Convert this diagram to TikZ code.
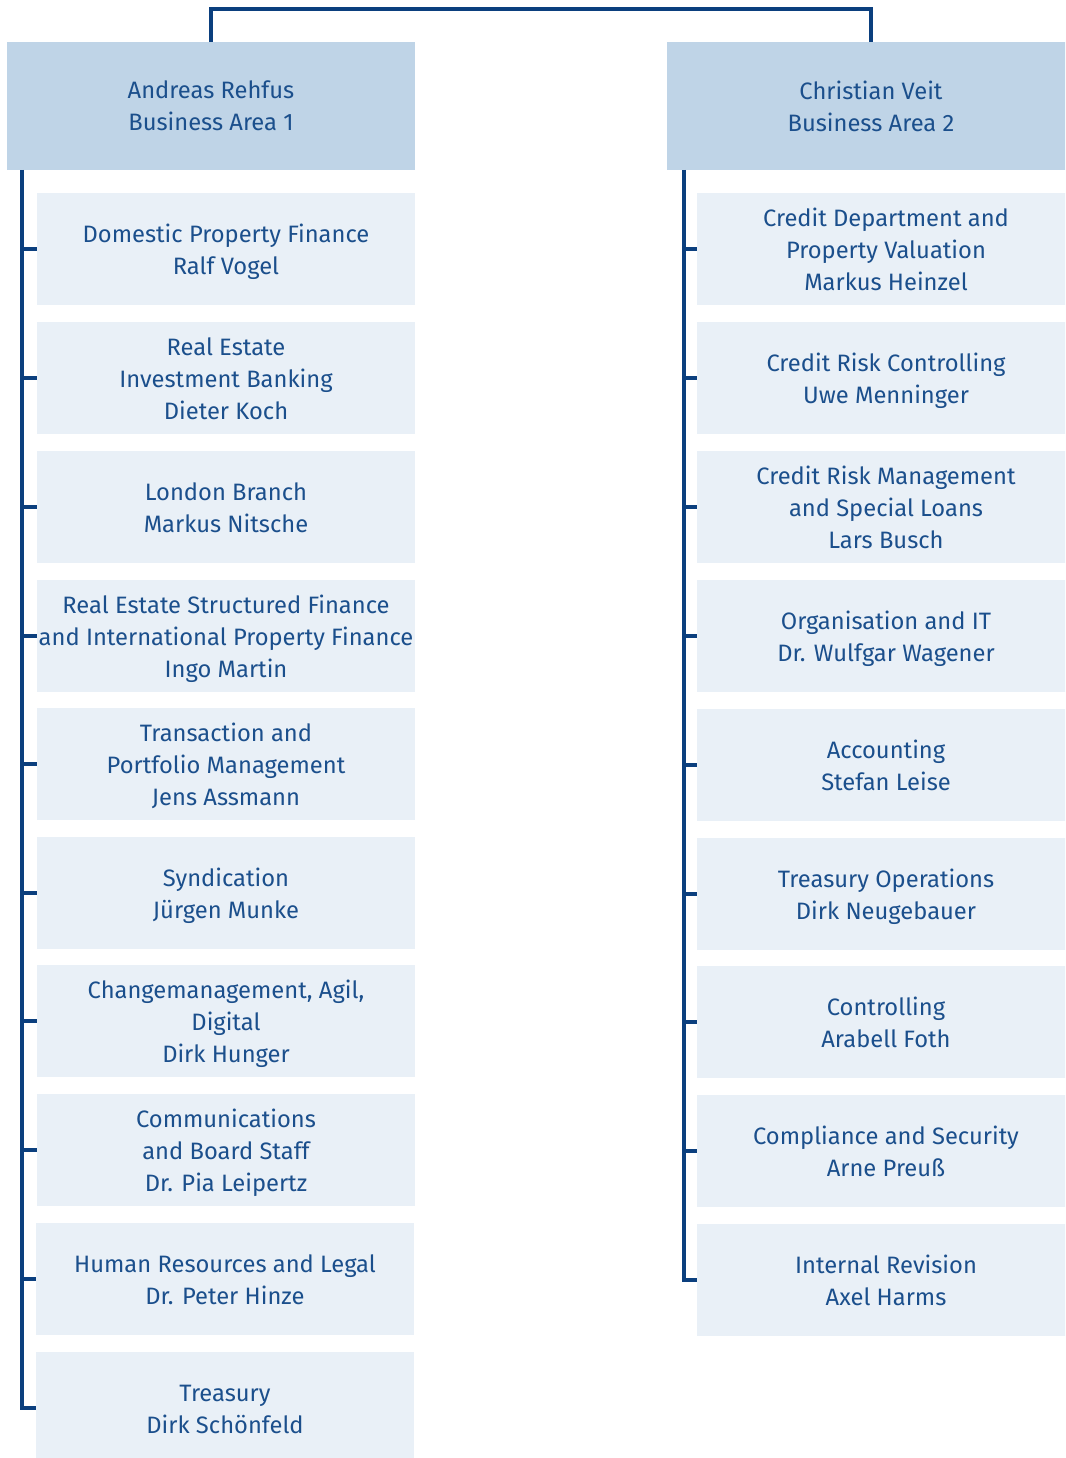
\documentclass[tikz,border=0pt]{standalone}
\usepackage{fontspec}
\setmainfont{Fira Sans}
\usetikzlibrary{calc}
\definecolor{headfill}{HTML}{BFD4E7}
\definecolor{unitfill}{HTML}{E9F0F7}
\definecolor{linkblue}{HTML}{0B3F7E}
\definecolor{txtblue}{HTML}{1B4F8C}
% unit label: centred lines, set slightly below the box centre
\newcommand{\utext}[1]{\raisebox{-2.25pt}[\height][\depth]{\begin{tabular}{@{}c@{}}#1\end{tabular}}}
\tikzset{
  headbox/.style={fill=headfill, text=txtblue, minimum width=306pt, minimum height=96pt,
    inner sep=0pt, align=center, font=\fontsize{17.8}{24}\selectfont},
  unitbox/.style={fill=unitfill, text=txtblue, minimum width=283.5pt, minimum height=84pt,
    inner sep=0pt, font=\fontsize{17.8}{24}\selectfont},
  conn/.style={draw=linkblue, line width=2.3pt}
}
\begin{document}
\begin{tikzpicture}[x=0.75pt,y=-0.75pt]
\useasboundingbox (0,0) rectangle (1065,1458);
\clip (0,0) rectangle (1065,1458);

% business area heads
\node[headbox] (h1) at (211,106) {Andreas Rehfus\\Business Area 1};
\node[headbox] (h2) at (871,106) {Christian Veit\\Business Area 2};

% units of business area 1
\node[unitbox] (a1)  at (226,249)  {\utext{Domestic Property Finance\\Ralf Vogel}};
\node[unitbox] (a2)  at (226,378)  {\utext{Real Estate\\Investment Banking\\Dieter Koch}};
\node[unitbox] (a3)  at (226,507)  {\utext{London Branch\\Markus Nitsche}};
\node[unitbox] (a4)  at (226,636)  {\utext{Real Estate Structured Finance\\and International Property Finance\\Ingo Martin}};
\node[unitbox] (a5)  at (226,764)  {\utext{Transaction and\\Portfolio Management\\Jens Assmann}};
\node[unitbox] (a6)  at (226,893)  {\utext{Syndication\\Jürgen Munke}};
\node[unitbox] (a7)  at (226,1021) {\utext{Changemanagement, Agil,\\Digital\\Dirk Hunger}};
\node[unitbox] (a8)  at (226,1150) {\utext{Communications\\and Board Staff\\Dr. Pia Leipertz}};
\node[unitbox] (a9)  at (225,1279) {\utext{Human Resources and Legal\\Dr. Peter Hinze}};
\node[unitbox] (a10) at (225,1408) {\utext{Treasury\\Dirk Schönfeld}};

% units of business area 2
\node[unitbox] (b1) at (886,249)  {\utext{Credit Department and\\Property Valuation\\Markus Heinzel}};
\node[unitbox] (b2) at (886,378)  {\utext{Credit Risk Controlling\\Uwe Menninger}};
\node[unitbox] (b3) at (886,507)  {\utext{Credit Risk Management\\and Special Loans\\Lars Busch}};
\node[unitbox] (b4) at (886,636)  {\utext{Organisation and IT\\Dr. Wulfgar Wagener}};
\node[unitbox] (b5) at (886,765)  {\utext{Accounting\\Stefan Leise}};
\node[unitbox] (b6) at (886,894)  {\utext{Treasury Operations\\Dirk Neugebauer}};
\node[unitbox] (b7) at (886,1022) {\utext{Controlling\\Arabell Foth}};
\node[unitbox] (b8) at (886,1151) {\utext{Compliance and Security\\Arne Preuß}};
\node[unitbox] (b9) at (886,1280) {\utext{Internal Revision\\Axel Harms}};

% link between the two heads
\coordinate (top) at (541,9);
\draw[conn] (h1.north) |- (top) -| (h2.north);

% spines
\coordinate (sa) at (22,170);
\coordinate (sb) at (684,170);
\draw[conn] (sa) |- (a10.west);
\foreach \i in {1,...,9} \draw[conn] (sa |- a\i.west) -- (a\i.west);
\draw[conn] (sb) |- (b9.west);
\foreach \i in {1,...,8} \draw[conn] (sb |- b\i.west) -- (b\i.west);
\end{tikzpicture}
\end{document}
